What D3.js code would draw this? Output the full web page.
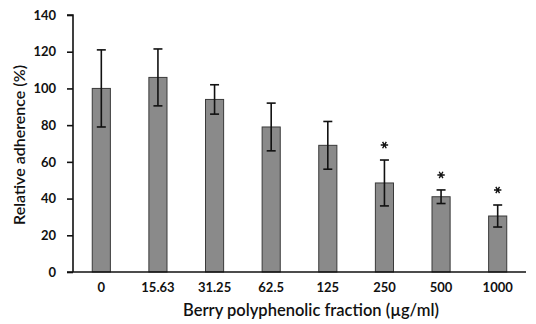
<!DOCTYPE html>
<html>
<head>
<meta charset="utf-8">
<script src="https://cdn.jsdelivr.net/npm/d3@7"></script>
<style>
  body { margin: 0; background: #fff; }
  text { font-family: Lato, "Open Sans", sans-serif; fill: #111; }
</style>
</head>
<body>
<div id="chart"></div>
<script>
// Chart data
const categories = ["0", "15.63", "31.25", "62.5", "125", "250", "500", "1000"];
const values = [100, 106, 94, 79, 69, 48.5, 41, 30.5];
const errors = [21, 15.5, 8, 13, 13, 12.5, 3.7, 6];
const significant = [false, false, false, false, false, true, true, true];
const yTicks = [0, 20, 40, 60, 80, 100, 120, 140];

const width = 536;
const height = 324;
const margin = { top: 15, right: 10, bottom: 52, left: 73 };

const svg = d3.select("#chart").append("svg")
    .attr("width", width)
    .attr("height", height);

const x = d3.scaleBand()
    .domain(categories)
    .range([margin.left, 526])
    .paddingInner(0.68)
    .paddingOuter(0.34);

const y = d3.scaleLinear()
    .domain([0, 140])
    .range([height - margin.bottom, margin.top]);

// Bars
svg.append("g")
    .selectAll("rect")
    .data(values)
    .enter().append("rect")
    .attr("x", (d, i) => x(categories[i]))
    .attr("y", d => y(d))
    .attr("width", x.bandwidth())
    .attr("height", d => y(0) - y(d))
    .attr("fill", "#8a8a8a")
    .attr("stroke", "#3a3a3a")
    .attr("stroke-width", 1);

// Error bars + significance marks
const eb = svg.append("g")
    .attr("stroke", "#111")
    .attr("stroke-width", 1.6);
const star = d3.symbol().type(d3.symbolAsterisk).size(38);
values.forEach((v, i) => {
    const cx = x(categories[i]) + x.bandwidth() / 2;
    eb.append("line")
        .attr("x1", cx).attr("x2", cx)
        .attr("y1", y(v + errors[i])).attr("y2", y(v - errors[i]));
    [v + errors[i], v - errors[i]].forEach(e => {
        eb.append("line")
            .attr("x1", cx - 4.5).attr("x2", cx + 4.5)
            .attr("y1", y(e)).attr("y2", y(e));
    });
    if (significant[i]) {
        svg.append("path")
            .attr("d", star)
            .attr("transform", `translate(${cx},${y(v + errors[i]) - 15}) rotate(90)`)
            .attr("fill", "none")
            .attr("stroke", "#111")
            .attr("stroke-width", 1.4);
    }
});

// Y axis
const yAxis = svg.append("g")
    .attr("transform", `translate(${margin.left},0)`)
    .call(d3.axisLeft(y).tickValues(yTicks).tickSize(6).tickPadding(11));
yAxis.select(".domain").attr("stroke", "#111").attr("stroke-width", 1.6)
    .attr("d", `M-6,${y(140)}H0V${y(0)}`);
yAxis.selectAll(".tick line").attr("stroke", "#111").attr("stroke-width", 1.6);
yAxis.selectAll(".tick text")
    .style("font-size", "13px")
    .style("font-weight", "bold")
    .attr("fill", "#111");

// X axis
const xAxis = svg.append("g")
    .attr("transform", `translate(0,${y(0)})`)
    .call(d3.axisBottom(x).tickSize(0).tickPadding(11));
xAxis.select(".domain").attr("stroke", "#111").attr("stroke-width", 1.6)
    .attr("d", `M${margin.left - 6},0H526`);
xAxis.selectAll(".tick text")
    .style("font-size", "13px")
    .style("font-weight", "bold")
    .attr("fill", "#111");

// Axis titles
svg.append("text")
    .attr("x", 311)
    .attr("y", 316)
    .attr("text-anchor", "middle")
    .style("font-size", "16.5px")
    .style("font-weight", "600")
    .text("Berry polyphenolic fraction (µg/ml)");

svg.append("text")
    .attr("transform", "translate(25,145) rotate(-90)")
    .attr("text-anchor", "middle")
    .style("font-size", "16px")
    .style("font-weight", "600")
    .text("Relative adherence (%)");
</script>
</body>
</html>
